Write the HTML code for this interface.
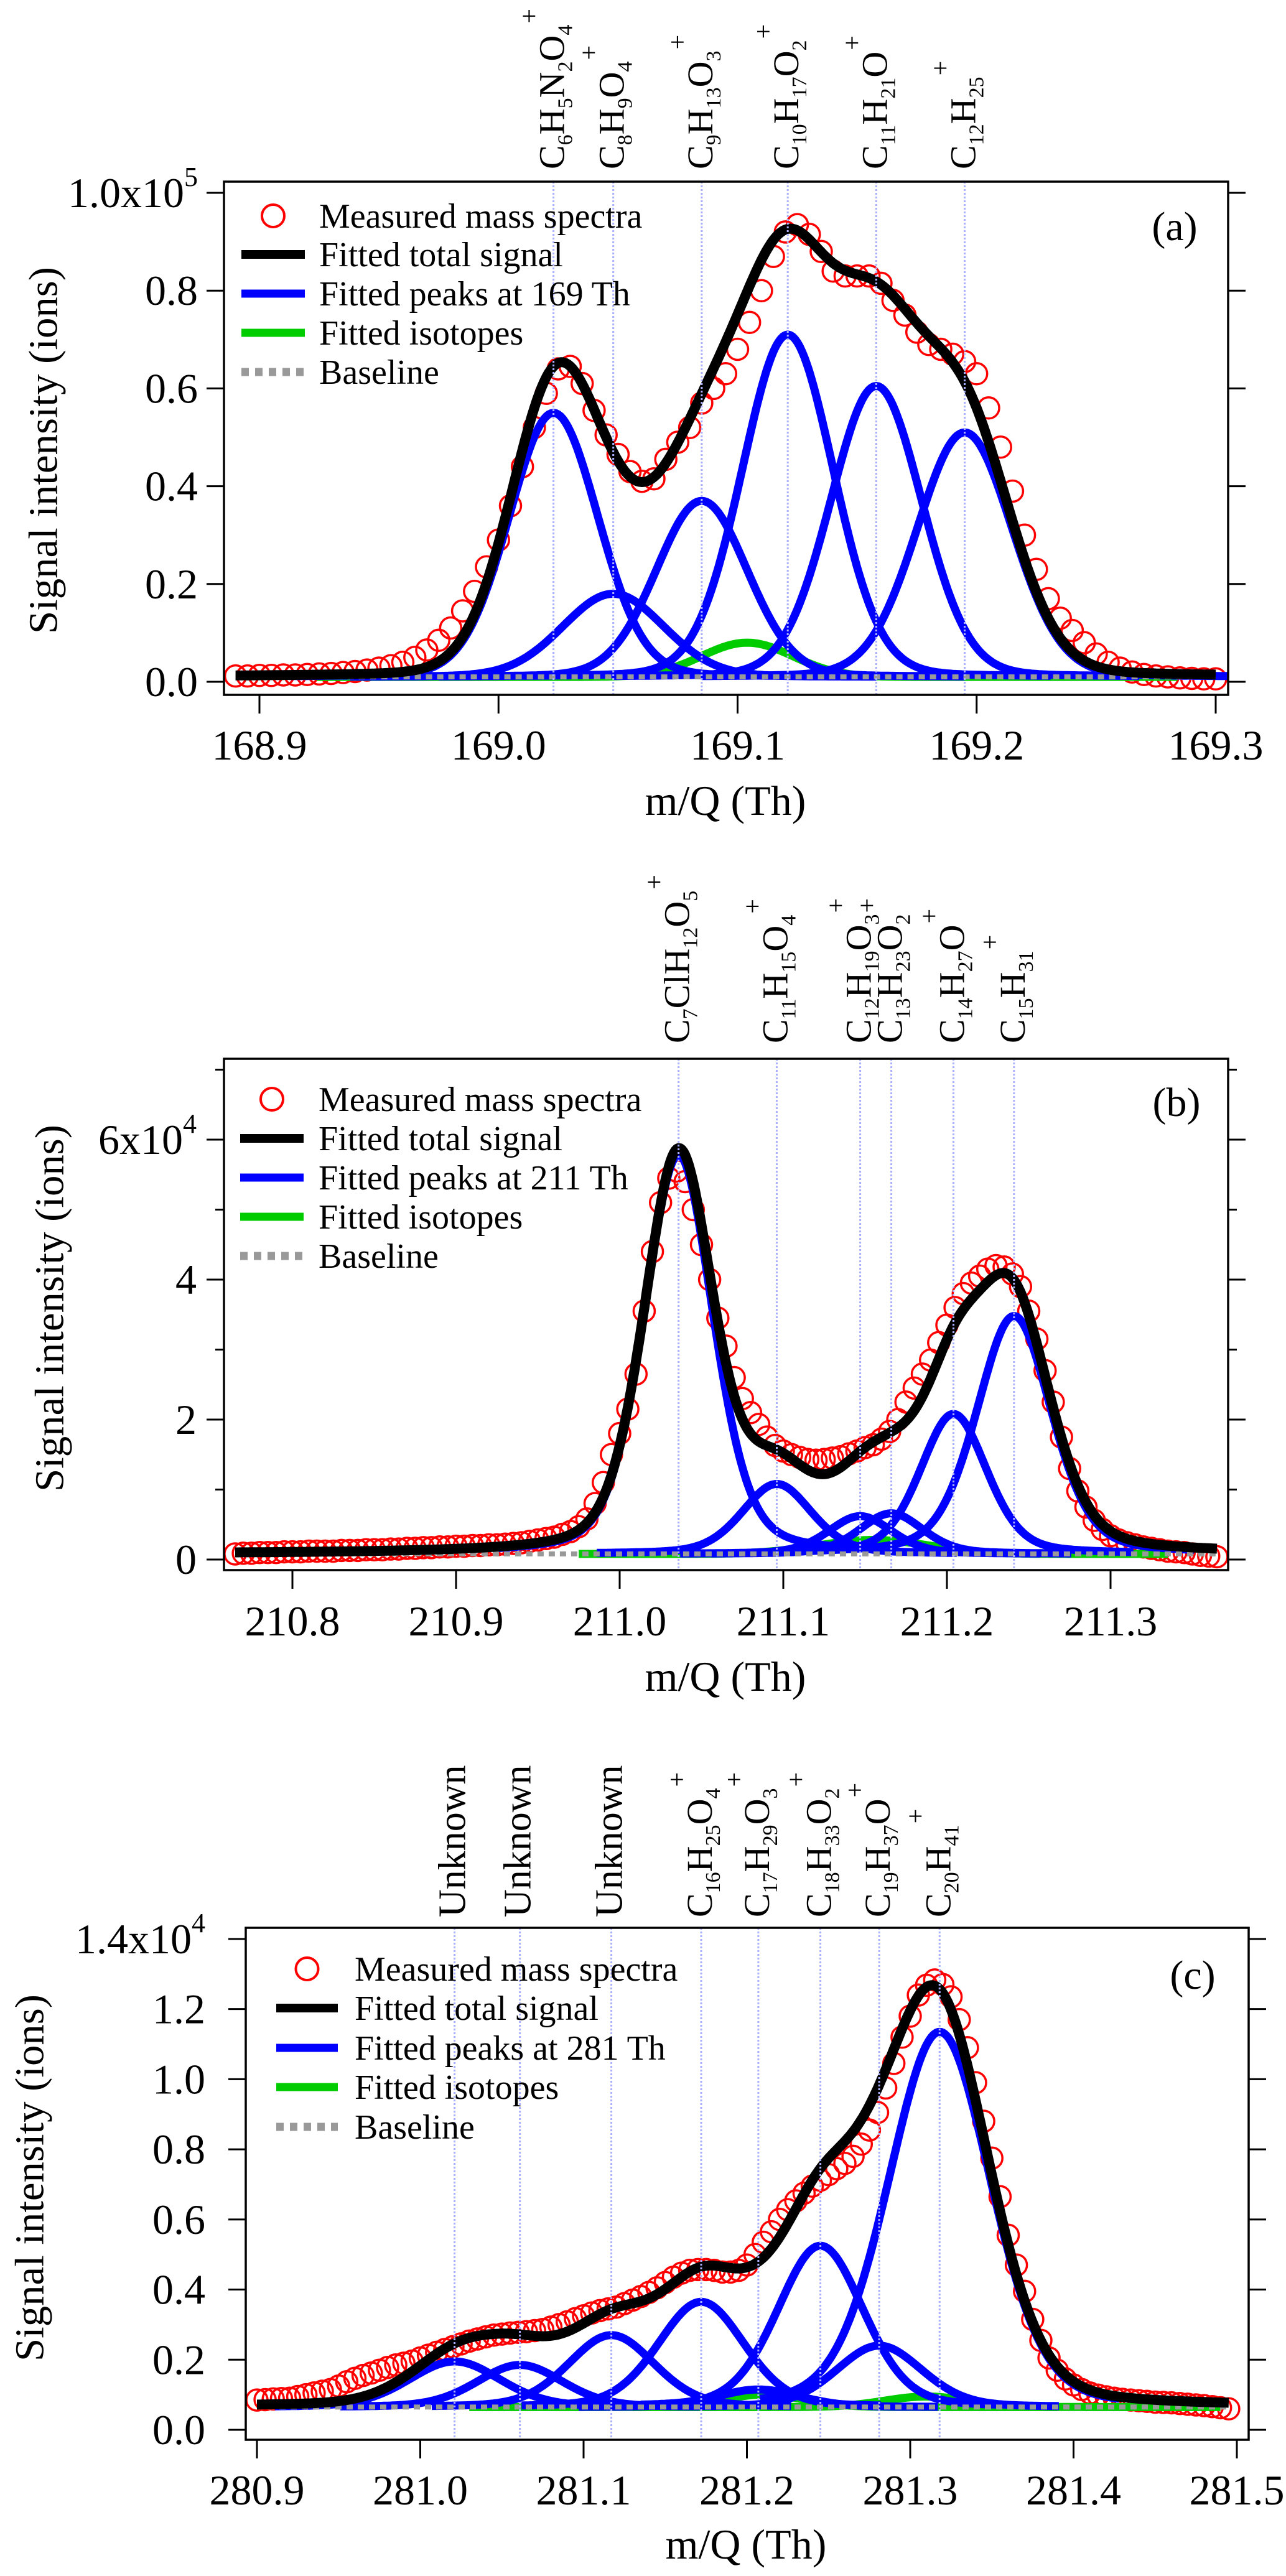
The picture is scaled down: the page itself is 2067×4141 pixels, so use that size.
<!DOCTYPE html>
<html><head><meta charset="utf-8"><title>Mass spectra peak fitting</title>
<style>
html,body{margin:0;padding:0;background:#fff;}
svg, svg text{font-family:"Liberation Serif","Times New Roman","DejaVu Serif",serif;}
</style></head>
<body>
<svg id="fig" xmlns="http://www.w3.org/2000/svg" width="2067" height="4136" viewBox="0 0 2067 4136" font-family="Liberation Serif, serif"></svg>
<script>
// ---------- Panel (a) data: 169 Th ----------
const aMeasStart = 168.890;
const aMeasStep = 0.005;
const aMeasured = [.012,.012,.013,.013,.014,.014,.015,.016,.017,.019,.021,.024,.028,.033,.040,.050,.065,.085,.110,.145,.185,.235,.290,.360,.440,.520,.590,.640,.645,.610,.555,.505,.465,.430,.410,.415,.455,.490,.520,.570,.600,.630,.680,.735,.800,.870,.920,.935,.915,.880,.840,.830,.830,.830,.815,.780,.750,.715,.690,.680,.670,.655,.630,.560,.480,.390,.300,.230,.170,.130,.105,.080,.057,.040,.028,.020,.015,.012,.010,.008,.007,.006,.006];
const aPeakCenters = [169.023,169.048,169.085,169.121,169.158,169.195];
const aPeakHeights = [0.54,0.17,0.36,0.70,0.595,0.50];
const aPeakWidths = [0.044,0.05,0.045,0.045,0.045,0.047];
const aIsoCenters = [169.104];
const aIsoHeights = [0.07];
const aIsoWidths = [0.045];
const aBaseline = 0.01;
const aLabels = ["C6H5N2O4","C8H9O4","C9H13O3","C10H17O2","C11H21O","C12H25"];
const aXTicks = [168.9,169.0,169.1,169.2,169.3];
const aXTickLabels = ["168.9","169.0","169.1","169.2","169.3"];
const aYTicks = [0,0.2,0.4,0.6,0.8,1.0];
const aYTickLabels = ["0.0","0.2","0.4","0.6","0.8","1.0x10"];

// ---------- Panel (b) data: 211 Th ----------
const bMeasStart = 210.765;
const bMeasStep = 0.005;
const bMeasured = [.08,.09,.09,.10,.10,.10,.11,.11,.11,.12,.12,.12,.12,.13,.13,.13,.14,.14,.14,.15,.15,.16,.16,.17,.17,.18,.18,.19,.19,.20,.20,.21,.21,.22,.23,.24,.26,.28,.30,.32,.36,.40,.47,.58,.80,1.10,1.50,1.80,2.15,2.65,3.55,4.40,5.10,5.45,5.55,5.40,5.00,4.50,4.00,3.45,3.05,2.60,2.30,2.10,1.93,1.75,1.63,1.55,1.50,1.46,1.43,1.42,1.43,1.45,1.47,1.51,1.55,1.60,1.64,1.72,1.83,2.00,2.25,2.45,2.65,2.85,3.10,3.35,3.60,3.80,3.95,4.05,4.15,4.20,4.18,4.08,3.90,3.55,3.15,2.70,2.25,1.75,1.30,0.98,0.75,0.56,0.43,0.34,0.28,0.24,0.21,0.18,0.16,0.14,0.12,0.11,0.10,0.08,0.06,0.05,0.04];
const bPeakCenters = [211.036,211.096,211.147,211.166,211.204,211.241];
const bPeakHeights = [5.7,1.0,0.54,0.58,2.0,3.4];
const bPeakWidths = [0.05,0.05,0.046,0.046,0.048,0.054];
const bIsoCenters = [211.155];
const bIsoHeights = [0.2];
const bIsoWidths = [0.08];
const bBaseline = 0.08;
const bLabels = ["C7ClH12O5","C11H15O4","C12H19O3","C13H23O2","C14H27O","C15H31"];
const bXTicks = [210.8,210.9,211.0,211.1,211.2,211.3];
const bXTickLabels = ["210.8","210.9","211.0","211.1","211.2","211.3"];
const bYTicks = [0,2,4,6];
const bYMinorTicks = [1,3,5,7];
const bYTickLabels = ["0","2","4","6x10"];

// ---------- Panel (c) data: 281 Th ----------
const cMeasStart = 280.900;
const cMeasStep = 0.005;
const cMeasured = [.085,.086,.088,.089,.090,.095,.100,.105,.110,.115,.125,.137,.147,.155,.162,.170,.178,.185,.190,.196,.205,.213,.221,.229,.237,.245,.253,.259,.265,.270,.273,.276,.278,.280,.283,.286,.293,.300,.308,.317,.325,.333,.340,.345,.350,.360,.370,.380,.392,.405,.420,.435,.447,.455,.457,.457,.455,.450,.450,.455,.470,.500,.535,.565,.600,.628,.653,.675,.695,.712,.728,.745,.760,.780,.815,.855,.905,.975,1.045,1.120,1.180,1.240,1.268,1.283,1.270,1.235,1.170,1.090,0.990,0.880,0.775,0.665,0.555,0.470,0.395,0.315,0.255,0.205,0.170,0.145,0.128,0.115,0.105,0.099,0.094,0.090,0.087,0.085,0.083,0.081,0.079,0.078,0.077,0.075,0.073,0.071,0.069,0.066,0.063,0.060];
const cPeakCenters = [281.021,281.061,281.117,281.172,281.207,281.245,281.281,281.318];
const cPeakHeights = [0.13,0.12,0.205,0.30,0.05,0.46,0.175,1.07];
const cPeakWidths = [0.066,0.062,0.062,0.062,0.06,0.062,0.062,0.074];
const cIsoCenters = [281.21,281.31];
const cIsoHeights = [0.035,0.03];
const cIsoWidths = [0.06,0.06];
const cBaseline = 0.065;
const cLabels = ["Unknown","Unknown","Unknown","C16H25O4","C17H29O3","C18H33O2","C19H37O","C20H41"];
const cXTicks = [280.9,281.0,281.1,281.2,281.3,281.4,281.5];
const cXTickLabels = ["280.9","281.0","281.1","281.2","281.3","281.4","281.5"];
const cYTicks = [0,0.2,0.4,0.6,0.8,1.0,1.2,1.4];
const cYTickLabels = ["0.0","0.2","0.4","0.6","0.8","1.0","1.2","1.4x10"];

const NS = "http://www.w3.org/2000/svg";
const FONT = "'Liberation Serif', 'Times New Roman', 'DejaVu Serif', serif";
const fig = document.getElementById("fig");
function mk(tag, attrs, parent){
  const e = document.createElementNS(NS, tag);
  for (const k in attrs) e.setAttribute(k, attrs[k]);
  if (tag === "text") e.setAttribute("style", "font-family:" + FONT);
  (parent || fig).appendChild(e);
  return e;
}
function pv(x, mu, w, eta){
  const s = w / 2.3548;
  const g = Math.exp(-0.5 * ((x - mu) / s) ** 2);
  const l = 1 / (1 + ((x - mu) / (w / 2)) ** 2);
  return (1 - eta) * g + eta * l;
}

function drawPanel(p){
  const g = mk("g", {});
  
  
  const X = m => p.x0px + (m - p.x0) * p.xs;
  const Y = v => p.y0px - v * p.ys;
  const F = p.frame;
  const cid = "clip-" + p.id;
  const cp = mk("clipPath", {id: cid}, g);
  mk("rect", {x: F[0], y: F[1], width: F[2] - F[0], height: F[3] - F[1]}, cp);
  const plot = mk("g", {"clip-path": "url(#" + cid + ")"}, g);
  
  
  const xmin = p.x0 + (F[0] - p.x0px) / p.xs, xmax = p.x0 + (F[2] - p.x0px) / p.xs;
  const dStart = p.meas0, dEnd = p.meas0 + (p.meas.length - 1) * p.measStep;

  const mg = mk("g", {fill: "none", stroke: "#ff0000", "stroke-width": 3.5}, plot);
  
  
  p.meas.forEach((v, i) => {
    const c = mk("circle", {cx: X(p.meas0 + i * p.measStep).toFixed(1), cy: Y(v).toFixed(1), r: 17}, mg);
    
    
  });

  function curve(fn, a, b, color, w, name, extra){
    let d = "";
    for (let m = a; m <= b + 1e-9; m += 0.001){
      d += (d ? "L" : "M") + X(m).toFixed(1) + "," + Y(fn(m)).toFixed(1);
    }
    const path = mk("path", Object.assign({d: d, fill: "none", stroke: color, "stroke-width": w, "stroke-linejoin": "round"}, extra || {}), plot);
    
    
    return path;
  }
  p.isoC.forEach((c, i) => {
    curve(m => p.base + p.isoH[i] * pv(m, c, p.isoW[i], 0), Math.max(xmin, c - 0.18), Math.min(xmax, c + 0.18), "#00cc00", 13, "fitted-isotope-" + (i + 1));
  });
  p.pkC.forEach((c, i) => {
    curve(m => p.base + p.pkH[i] * pv(m, c, p.pkW[i], p.eta), Math.max(xmin, c - 0.11), Math.min(xmax, c + 0.11), "#0000ff", 13, "fitted-peak-" + (i + 1), {"stroke-linecap": "butt"});
  });
  curve(m => p.base, dStart, dEnd, "#999999", 8, "baseline", {"stroke-dasharray": "10,8"});
  const total = m => {
    let s = p.base;
    p.pkC.forEach((c, i) => { s += p.pkH[i] * pv(m, c, p.pkW[i], p.eta); });
    p.isoC.forEach((c, i) => { s += p.isoH[i] * pv(m, c, p.isoW[i], 0); });
    return s;
  };
  curve(total, dStart, dEnd, "#000000", 16, "fitted-total-signal");
  p.pkC.forEach((c, i) => {
    const ln = mk("line", {x1: X(c), x2: X(c), y1: F[1], y2: F[3], stroke: "#aab0ff", "stroke-width": 3, "stroke-dasharray": "3,3"}, plot);
    
    
  });

  const fr = mk("rect", {x: F[0], y: F[1], width: F[2] - F[0], height: F[3] - F[1], fill: "none", stroke: "#000", "stroke-width": 3.5}, g);
  
  

  p.xTicks.forEach((t, i) => {
    const tk = mk("line", {x1: X(t), x2: X(t), y1: F[3], y2: F[3] + 30, stroke: "#000", "stroke-width": 3}, g);
    
    
    const tl = mk("text", {x: X(t), y: p.xLabelY, "text-anchor": "middle", "font-size": 68}, g);
    tl.textContent = p.xTickLabels[i];
    
    
  });
  p.yTicks.forEach((t, i) => {
    [[F[0] - 28, F[0]], [F[2], F[2] + 28]].forEach(s => {
      const tk = mk("line", {x1: s[0], x2: s[1], y1: Y(t), y2: Y(t), stroke: "#000", "stroke-width": 3}, g);
      
      
    });
    const tl = mk("text", {x: p.yLabelX, y: Y(t) + 23, "text-anchor": "end", "font-size": 68}, g);
    
    
    tl.appendChild(document.createTextNode(p.yTickLabels[i]));
    if (i === p.yTicks.length - 1){
      const sp = mk("tspan", {"font-size": 44, dy: -34}, tl);
      sp.textContent = p.exp;
    }
  });
  (p.yMinor || []).forEach(t => {
    [[F[0] - 14, F[0]], [F[2], F[2] + 14]].forEach(s => {
      const tk = mk("line", {x1: s[0], x2: s[1], y1: Y(t), y2: Y(t), stroke: "#000", "stroke-width": 3}, g);
      
      
    });
  });
  const xt = mk("text", {x: p.xTitle[0], y: p.xTitle[1], "text-anchor": "middle", "font-size": 68}, g);
  xt.textContent = "m/Q (Th)";
  
  
  const yt = mk("text", {x: 0, y: 0, "text-anchor": "middle", "font-size": 66, transform: "translate(" + p.yTitle[0] + "," + p.yTitle[1] + ") rotate(-90)", "dominant-baseline": "central", textLength: 590, lengthAdjust: "spacingAndGlyphs"}, g);
  yt.textContent = "Signal intensity (ions)";
  
  
  const pl = mk("text", {x: p.letterPos[0], y: p.letterPos[1], "text-anchor": "middle", "font-size": 66}, g);
  pl.textContent = p.letter;
  
  

  p.labels.forEach((lab, i) => {
    const bx = X(p.pkC[i]) + 17, by = p.labelY;
    const t = mk("text", {x: 0, y: 0, "font-size": lab === "Unknown" ? 62 : 58, transform: "translate(" + bx + "," + by + ") rotate(-90)"}, g);
    
    
    const parts = lab.match(/[A-Za-z]+|\d+/g);
    let shifted = false;
    parts.forEach(pt => {
      const isNum = /\d/.test(pt);
      const ts = mk("tspan", {}, t);
      if (isNum){ ts.setAttribute("font-size", 34); ts.setAttribute("dy", shifted ? 0 : 13); shifted = true; }
      else { if (shifted){ ts.setAttribute("dy", -13); shifted = false; } }
      ts.textContent = pt;
    });
    if (lab !== "Unknown"){
      const plus = mk("tspan", {"font-size": 42, dy: (shifted ? -13 : 0) - 42, dx: 2}, t);
      plus.textContent = "+";
    }
  });

  const lg = mk("g", {}, g);
  
  
  const L = p.legend;
  const names = ["Measured mass spectra", "Fitted total signal", "Fitted peaks at " + p.nominal + " Th", "Fitted isotopes", "Baseline"];
  const keys = ["legend-measured", "legend-total", "legend-peaks", "legend-isotopes", "legend-baseline"];
  names.forEach((nm, i) => {
    const y = L.ys[i];
    const ent = mk("g", {}, lg);
    
    
    if (i === 0) mk("circle", {cx: (L.x1 + L.x2) / 2, cy: y, r: 18, fill: "none", stroke: "#ff0000", "stroke-width": 4}, ent);
    else if (i === 1) mk("line", {x1: L.x1, x2: L.x2, y1: y, y2: y, stroke: "#000", "stroke-width": 14}, ent);
    else if (i === 2) mk("line", {x1: L.x1, x2: L.x2, y1: y, y2: y, stroke: "#0000ff", "stroke-width": 13}, ent);
    else if (i === 3) mk("line", {x1: L.x1, x2: L.x2, y1: y, y2: y, stroke: "#00cc00", "stroke-width": 13}, ent);
    else mk("line", {x1: L.x1, x2: L.x2, y1: y, y2: y, stroke: "#999999", "stroke-width": 13, "stroke-dasharray": "12,10"}, ent);
    const tx = mk("text", {x: L.tx, y: y + 19, "font-size": 56}, ent);
    tx.textContent = nm;
  });
}

drawPanel({id: "a", name: "panel-a-169th", letter: "(a)", nominal: 169,
  frame: [360, 292, 1974, 1117], x0: 168.9, x0px: 417, xs: 3842.5, y0px: 1096, ys: 786,
  meas0: aMeasStart, measStep: aMeasStep, meas: aMeasured,
  pkC: aPeakCenters, pkH: aPeakHeights, pkW: aPeakWidths, eta: 0.08,
  isoC: aIsoCenters, isoH: aIsoHeights, isoW: aIsoWidths, base: aBaseline,
  labels: aLabels, labelY: 272,
  xTicks: aXTicks, xTickLabels: aXTickLabels, xLabelY: 1221,
  yTicks: aYTicks, yTickLabels: aYTickLabels, exp: "5", yLabelX: 318,
  xTitle: [1166, 1310], yTitle: [70, 724], letterPos: [1888, 386],
  legend: {x1: 388, x2: 490, tx: 513, ys: [347, 409, 472, 535, 598]}});

drawPanel({id: "b", name: "panel-b-211th", letter: "(b)", nominal: 211,
  frame: [360, 1702, 1974, 2524], x0: 210.8, x0px: 470, xs: 2630, y0px: 2507, ys: 112.5,
  meas0: bMeasStart, measStep: bMeasStep, meas: bMeasured,
  pkC: bPeakCenters, pkH: bPeakHeights, pkW: bPeakWidths, eta: 0.3,
  isoC: bIsoCenters, isoH: bIsoHeights, isoW: bIsoWidths, base: bBaseline,
  labels: bLabels, labelY: 1677,
  xTicks: bXTicks, xTickLabels: bXTickLabels, xLabelY: 2629,
  yTicks: bYTicks, yMinor: bYMinorTicks, yTickLabels: bYTickLabels, exp: "4", yLabelX: 316,
  xTitle: [1166, 2718], yTitle: [80, 2103], letterPos: [1891, 1794],
  legend: {x1: 386, x2: 488, tx: 512, ys: [1767, 1830, 1893, 1956, 2019]}});

drawPanel({id: "c", name: "panel-c-281th", letter: "(c)", nominal: 281,
  frame: [395, 3099, 2007, 3922], x0: 280.9, x0px: 413, xs: 2625, y0px: 3906, ys: 563.6,
  meas0: cMeasStart, measStep: cMeasStep, meas: cMeasured,
  pkC: cPeakCenters, pkH: cPeakHeights, pkW: cPeakWidths, eta: 0.2,
  isoC: cIsoCenters, isoH: cIsoHeights, isoW: cIsoWidths, base: cBaseline,
  labels: cLabels, labelY: 3082,
  xTicks: cXTicks, xTickLabels: cXTickLabels, xLabelY: 4026,
  yTicks: cYTicks, yTickLabels: cYTickLabels, exp: "4", yLabelX: 330,
  xTitle: [1199, 4113], yTitle: [48, 3501], letterPos: [1917, 3197],
  legend: {x1: 444, x2: 543, tx: 570, ys: [3165, 3228, 3292, 3355, 3419]}});
</script>
</body></html>
